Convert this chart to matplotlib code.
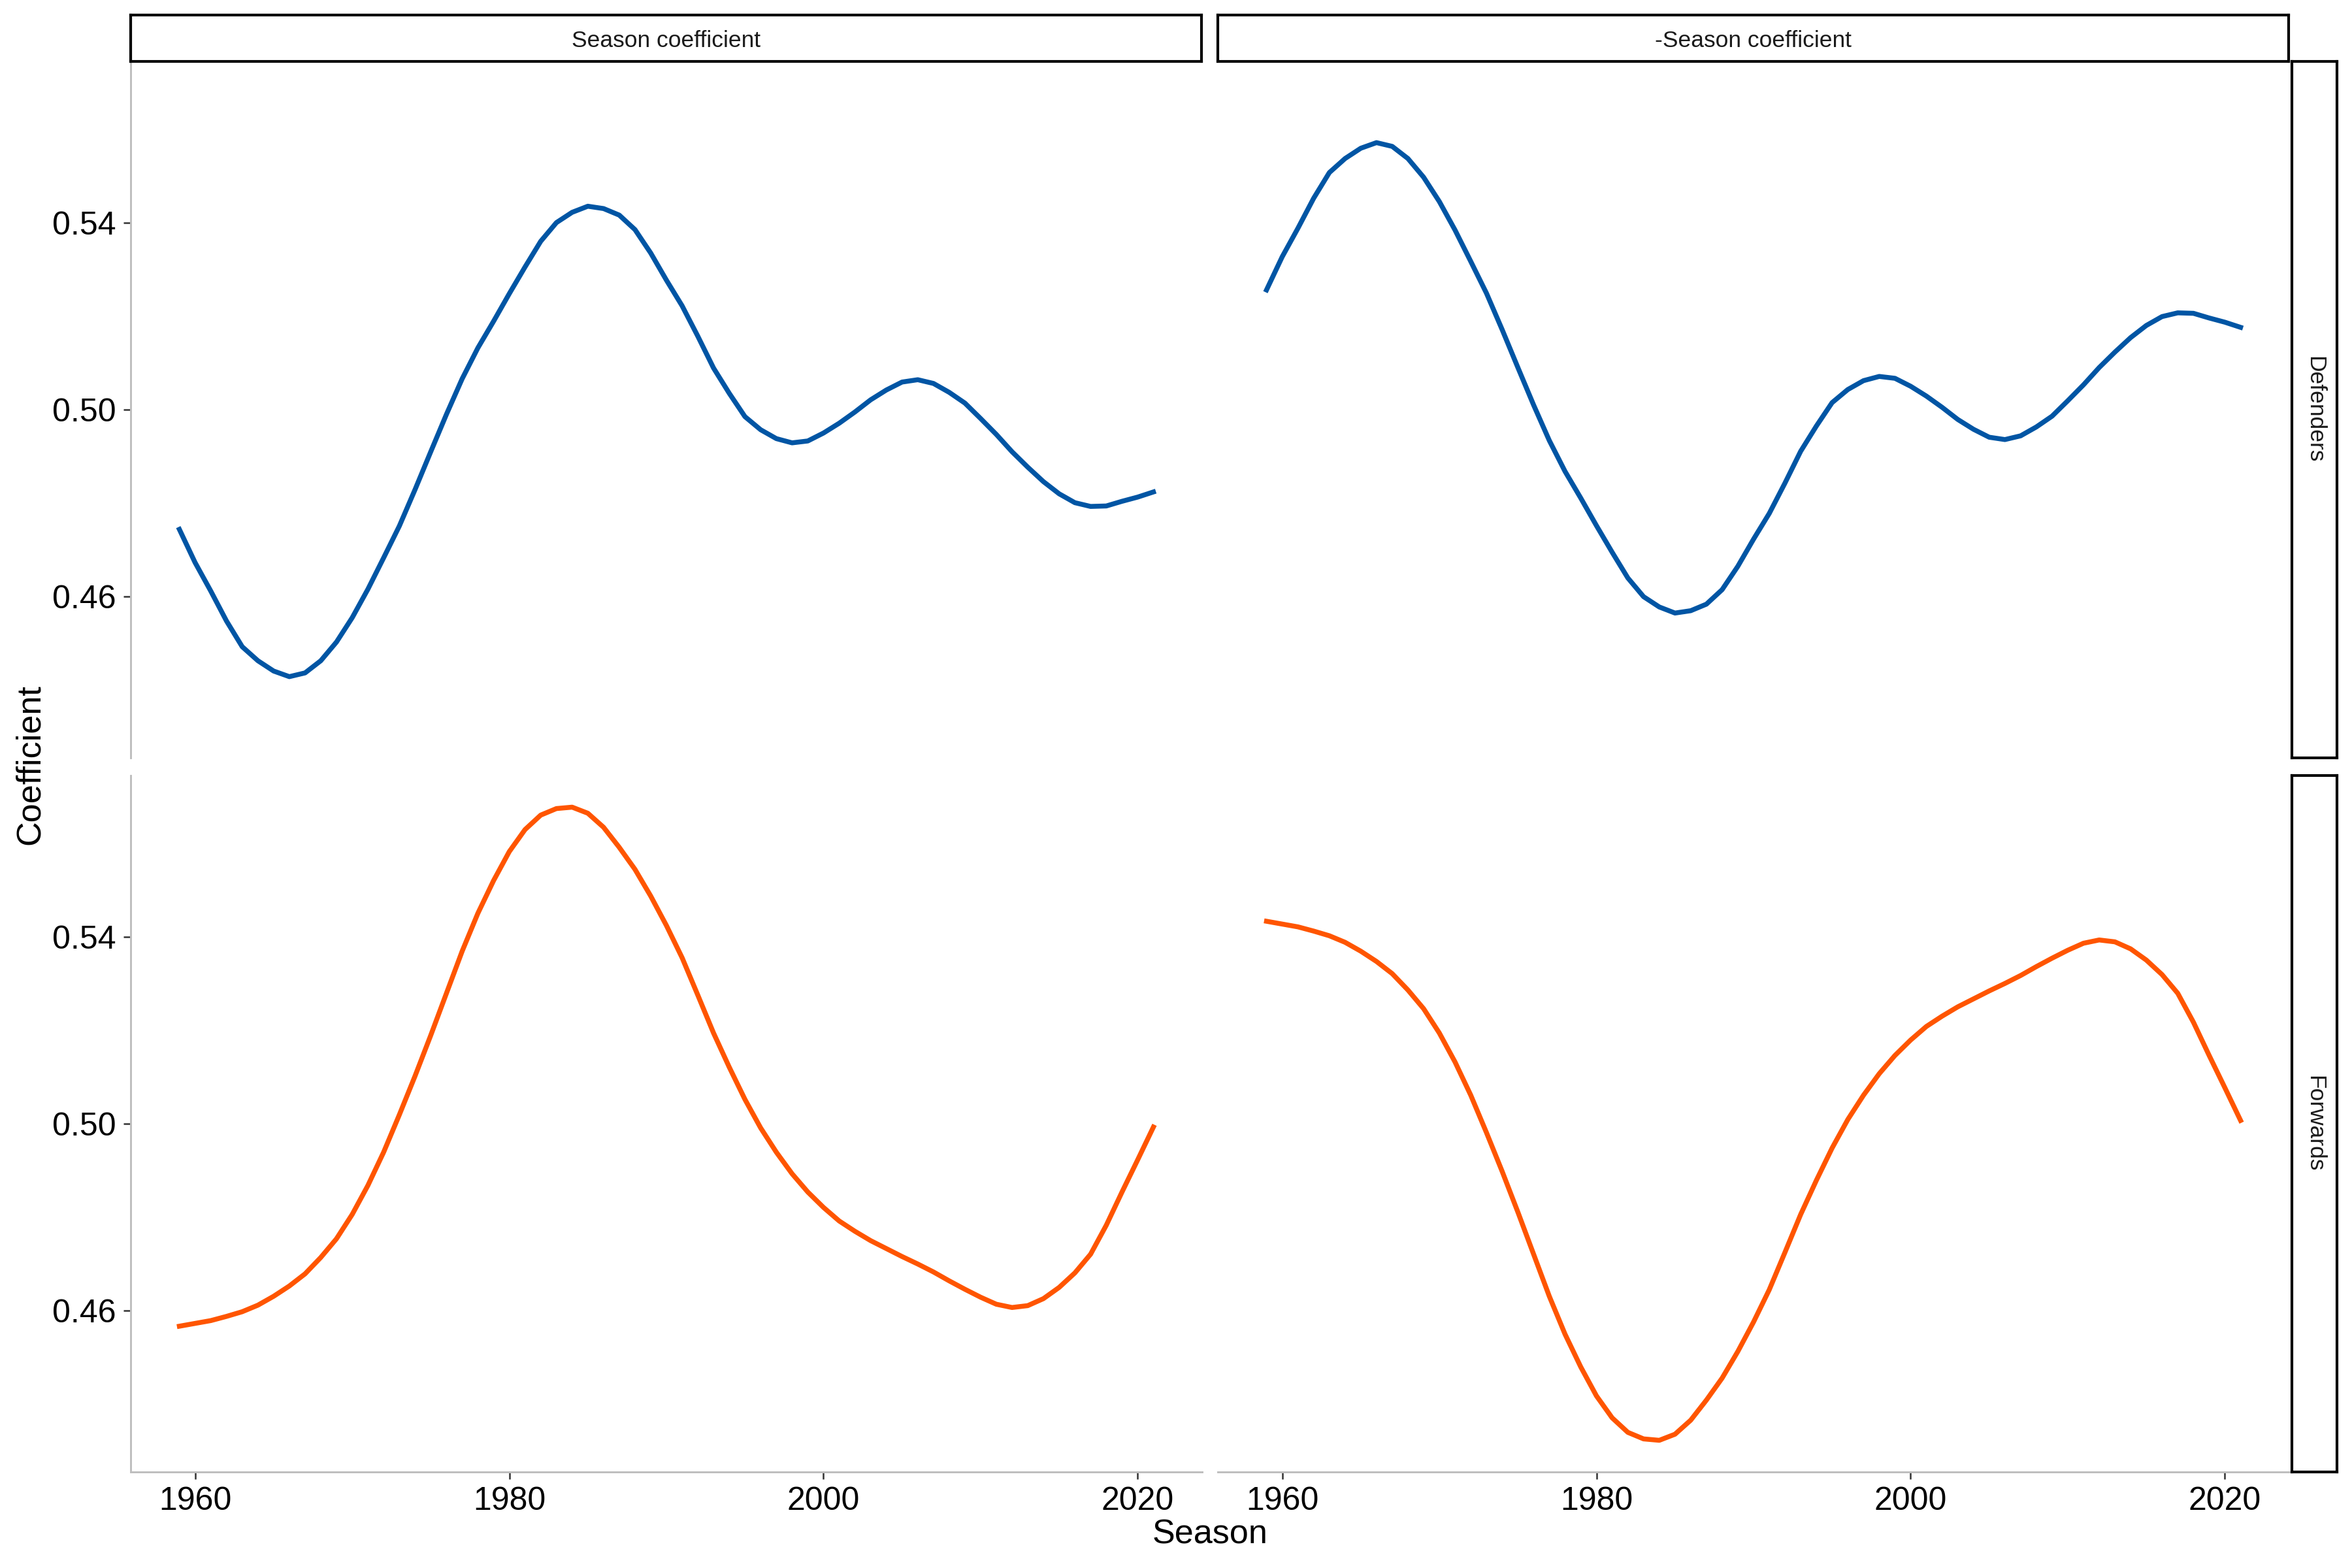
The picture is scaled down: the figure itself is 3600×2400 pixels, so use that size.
import matplotlib
matplotlib.use('Agg')
import matplotlib.pyplot as plt

plt.rcParams['font.family'] = ['Liberation Sans', 'DejaVu Sans']

# facet labels
columns = ['Season coefficient', '-Season coefficient']
rows = ['Defenders', 'Forwards']
colours = ['#0055A4', '#FF5500']

# smoothed curves, one value per season
seasons = list(range(1959, 2022))

def_coef = [0.4744, 0.4673, 0.4612, 0.4548, 0.4493, 0.4463, 0.4441, 0.4429, 0.4437, 0.4463,
            0.4503, 0.4555, 0.4616, 0.4683, 0.4751, 0.4829, 0.4910, 0.4990, 0.5066, 0.5132,
            0.5189, 0.5248, 0.5305, 0.5360, 0.5400, 0.5422, 0.5435, 0.5430, 0.5416, 0.5385,
            0.5335, 0.5277, 0.5222, 0.5157, 0.5089, 0.5035, 0.4985, 0.4957, 0.4938, 0.4929,
            0.4933, 0.4950, 0.4971, 0.4995, 0.5021, 0.5042, 0.5059, 0.5064, 0.5056, 0.5037,
            0.5014, 0.4981, 0.4947, 0.4910, 0.4877, 0.4846, 0.4820, 0.4801, 0.4793, 0.4794,
            0.4804, 0.4813, 0.4824]
def_neg = [0.5256, 0.5327, 0.5388, 0.5452, 0.5507, 0.5537, 0.5559, 0.5571, 0.5563, 0.5537,
           0.5497, 0.5445, 0.5384, 0.5317, 0.5249, 0.5171, 0.5090, 0.5010, 0.4934, 0.4868,
           0.4811, 0.4752, 0.4695, 0.4640, 0.4600, 0.4578, 0.4565, 0.4570, 0.4584, 0.4615,
           0.4665, 0.4723, 0.4778, 0.4843, 0.4911, 0.4965, 0.5015, 0.5043, 0.5062, 0.5071,
           0.5067, 0.5050, 0.5029, 0.5005, 0.4979, 0.4958, 0.4941, 0.4936, 0.4944, 0.4963,
           0.4986, 0.5019, 0.5053, 0.5090, 0.5123, 0.5154, 0.5180, 0.5199, 0.5207, 0.5206,
           0.5196, 0.5187, 0.5176]

fwd_coef = [0.4567, 0.4573, 0.4579, 0.4588, 0.4598, 0.4612, 0.4631, 0.4653, 0.4679, 0.4714,
            0.4754, 0.4806, 0.4868, 0.4939, 0.5019, 0.5102, 0.5189, 0.5279, 0.5369, 0.5450,
            0.5520, 0.5582, 0.5629, 0.5660, 0.5674, 0.5677, 0.5664, 0.5634, 0.5591, 0.5544,
            0.5487, 0.5424, 0.5355, 0.5275, 0.5194, 0.5121, 0.5052, 0.4991, 0.4939, 0.4893,
            0.4854, 0.4821, 0.4792, 0.4770, 0.4750, 0.4733, 0.4716, 0.4700, 0.4683, 0.4664,
            0.4646, 0.4629, 0.4614, 0.4607, 0.4611, 0.4626, 0.4650, 0.4681, 0.4721, 0.4783,
            0.4854, 0.4923, 0.4993]
fwd_neg = [0.5433, 0.5427, 0.5421, 0.5412, 0.5402, 0.5388, 0.5369, 0.5347, 0.5321, 0.5286,
           0.5246, 0.5194, 0.5132, 0.5061, 0.4981, 0.4898, 0.4811, 0.4721, 0.4631, 0.4550,
           0.4480, 0.4418, 0.4371, 0.4340, 0.4326, 0.4323, 0.4336, 0.4366, 0.4409, 0.4456,
           0.4513, 0.4576, 0.4645, 0.4725, 0.4806, 0.4879, 0.4948, 0.5009, 0.5061, 0.5107,
           0.5146, 0.5179, 0.5208, 0.5230, 0.5250, 0.5267, 0.5284, 0.5300, 0.5317, 0.5336,
           0.5354, 0.5371, 0.5386, 0.5393, 0.5389, 0.5374, 0.5350, 0.5319, 0.5279, 0.5217,
           0.5146, 0.5077, 0.5007]

x_ticks = [1960, 1980, 2000, 2020]
y_ticks = [0.46, 0.50, 0.54]
y_labels = ['0.46', '0.50', '0.54']

series = [[def_coef, def_neg], [fwd_coef, fwd_neg]]

W, H = 3600, 2400
fig = plt.figure(figsize=(12, 8), dpi=300)

lefts = [200, 1864]
tops = [94, 1187]
pw, ph = 1640, 1066

first = None
for r in range(2):
    for c in range(2):
        ax = fig.add_axes([lefts[c] / W, 1 - (tops[r] + ph) / H, pw / W, ph / H],
                          sharex=first, sharey=first)
        if first is None:
            first = ax
        ax.plot(seasons, series[r][c], color=colours[r], lw=1.8)
        ax.margins(x=0.05, y=0.05)
        for s in ['top', 'right']:
            ax.spines[s].set_visible(False)
        ax.spines['left'].set_visible(c == 0)
        ax.spines['bottom'].set_visible(r == 1)
        for s in ['left', 'bottom']:
            ax.spines[s].set_color('#BEBEBE')
            ax.spines[s].set_linewidth(0.7)
        ax.tick_params(axis='both', direction='out', length=2.75, width=0.6,
                       color='#333333', labelcolor='black', labelsize=12, pad=2.6)
        ax.tick_params(axis='y', left=(c == 0), labelleft=(c == 0))
        ax.tick_params(axis='x', bottom=(r == 1), labelbottom=(r == 1))

first.set_xticks(x_ticks)
first.set_yticks(y_ticks)
first.set_yticklabels(y_labels)

# strips on top
for c in range(2):
    sa = fig.add_axes([lefts[c] / W, 1 - tops[0] / H, (pw - 1) / W, 71 / H])
    sa.set_xticks([])
    sa.set_yticks([])
    for s in sa.spines.values():
        s.set_color('black')
        s.set_linewidth(1.0)
    sa.text(0.5, 0.44, columns[c], ha='center', va='center', fontsize=8.5,
            color='#1A1A1A', transform=sa.transAxes)

# strips on the right
for r in range(2):
    sa = fig.add_axes([3508 / W, 1 - (tops[r] + ph) / H, 69 / W, ph / H])
    sa.set_xticks([])
    sa.set_yticks([])
    for s in sa.spines.values():
        s.set_color('black')
        s.set_linewidth(1.0)
    sa.text(0.5, 0.5, rows[r], ha='center', va='center', fontsize=8.5, rotation=-90,
            color='#1A1A1A', transform=sa.transAxes)

fig.text(46 / W, 1 - 1170 / H, 'Coefficient', rotation=90, ha='center', va='center',
         fontsize=12.5)
fig.text(1852 / W, 1 - 2349 / H, 'Season', ha='center', va='center', fontsize=12.5)

fig.savefig('out.png', dpi=300, facecolor='white')
